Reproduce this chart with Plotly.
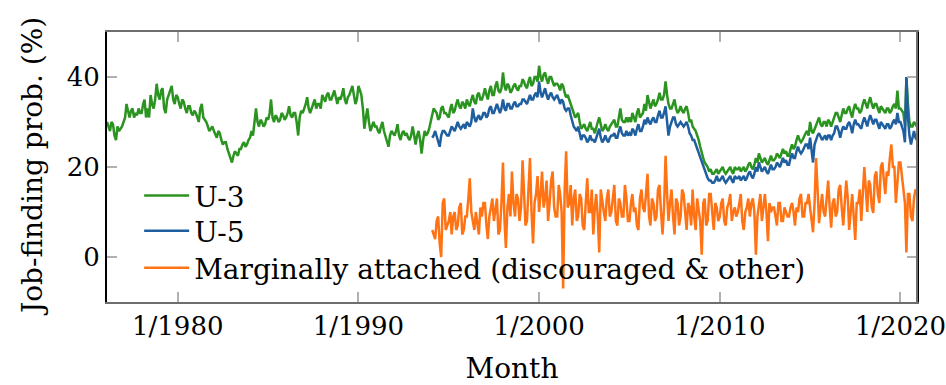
import pandas as pd
import plotly.graph_objects as go

# ---- data: monthly readings ----
u3_values = [
    30, 29, 28, 30, 29.5, 27, 26, 29, 28, 28.5, 29,                  # 1976 (Feb-Dec)
    30, 31, 34, 32, 31, 32.5, 33, 31, 32, 31.5, 33, 32,              # 1977
    32, 34, 35, 31, 33, 31, 36, 34, 33, 35, 38.5, 36,                # 1978
    35, 37, 37.5, 33, 32, 35, 36, 37, 38, 35, 34, 36,                # 1979
    35.5, 34, 33, 35, 34.5, 33, 32, 33.5, 33.5, 32, 31.5, 32.5,      # 1980
    32, 31, 30, 33, 34, 31, 30.5, 30, 29, 28, 28.5, 29,              # 1981
    28, 27, 26.5, 28, 27.5, 26, 25, 25.5, 25.5, 24, 23, 22.5,        # 1982
    21, 22.5, 23.5, 23, 22.5, 24, 24, 25, 25.5, 24.5, 25, 26,        # 1983
    26.5, 28, 27, 30, 33, 30, 29, 30.5, 30, 29, 29.5, 31,            # 1984
    30.5, 32, 35, 31, 30, 31.5, 31, 30, 30.5, 32, 31.5, 30.5,        # 1985
    31, 32, 33.5, 31.5, 31, 32, 32, 30, 27, 31, 32.5, 32,            # 1986
    33, 34, 35.5, 33, 32, 33, 33.5, 35, 33, 34, 34, 33,              # 1987
    36, 35, 34.5, 36, 36.5, 35, 35, 36, 37, 35.5, 34, 35.5,          # 1988
    35, 36, 37.5, 35, 34, 35.5, 36, 37, 38, 36, 34, 35,              # 1989
    38, 37, 36, 33, 28.5, 31, 33, 30, 28, 29, 30, 29,                # 1990
    29, 28, 27.5, 29, 30, 28, 27, 26, 24.5, 27, 28, 27.5,            # 1991
    27, 28, 29.5, 27, 26, 27.5, 28, 27, 27.5, 26.5, 26, 27,          # 1992
    29, 27, 25, 27, 28, 26, 23, 26, 28, 27, 27.5, 28.5,              # 1993
    30, 31, 33, 32.5, 32, 30.5, 31, 33, 33.5, 32, 32, 31.5,          # 1994
    31, 33, 34, 32, 32.5, 34, 35, 33.5, 33, 34.5, 34, 33,            # 1995
    35, 34, 33.5, 35, 36, 34.5, 34, 36, 36.5, 35, 35, 36,            # 1996
    37.5, 36, 35, 37, 38, 36, 36, 38, 39, 37, 36.5, 37.5,            # 1997
    41, 38, 37, 38.5, 38, 36.5, 37, 38, 38.5, 37.5, 37, 38,          # 1998
    38, 39.5, 39, 38, 37.5, 39, 40, 38, 38.5, 40, 40, 39,            # 1999
    42.5, 40, 39, 40.5, 41, 39.5, 38.5, 40, 40, 39, 38, 38.5,        # 2000
    38.5, 38, 37, 38.5, 38, 36.5, 35.5, 36, 35, 34, 33, 32,          # 2001
    31, 31.5, 32, 30, 28.5, 29, 29.5, 28.5, 28, 29, 30, 28.5,        # 2002
    28.5, 27.5, 29, 30, 31, 29, 28, 28.5, 29.5, 28.5, 28, 29,        # 2003
    29.5, 30, 30.5, 29, 29, 31, 33, 30.5, 30, 30, 31, 30,            # 2004
    31, 30, 32, 31, 30, 32, 33, 31, 31.5, 32, 34, 32.5,              # 2005
    36, 34, 33, 34, 35, 33.5, 34, 35, 36.5, 35, 35, 36,              # 2006
    39, 36, 34, 33, 33, 34, 35, 33, 32, 32.5, 33.5, 32.5,            # 2007
    32, 33, 33.5, 32, 30, 30.5, 29, 28.5, 28, 27, 26, 24.5,          # 2008
    23, 22, 21, 20.5, 20, 19, 19.5, 18.5, 18.5, 19, 19.5, 18.5,      # 2009
    19, 19.5, 20, 19, 18.5, 19, 19.5, 20, 19, 18.5, 20, 19.5,        # 2010
    19.5, 20, 19, 19.5, 20, 19, 19.5, 20.5, 21, 20, 19.5, 20.5,      # 2011
    22, 21, 23, 22, 21, 21.5, 22, 21, 20.5, 21.5, 22.5, 21.5,        # 2012
    21.5, 22, 23, 22.5, 22, 23, 24, 23, 23.5, 22.5, 22.5, 24,        # 2013
    25, 24, 24.5, 26, 27, 26, 25.5, 26, 27, 27.5, 28, 27,            # 2014
    30, 28, 27.5, 28.5, 29, 30, 31, 29.5, 29, 30, 30, 29,            # 2015
    30.5, 30, 29, 30, 31, 32, 32, 31, 30, 31.5, 33, 32,              # 2016
    32, 33, 33.5, 32, 31, 33, 34, 33, 33, 32, 32.5, 34,              # 2017
    35, 34, 33, 34.5, 35.5, 34, 33, 34, 34, 33, 32, 33.5,            # 2018
    33, 32.5, 32, 33, 33, 32, 32.5, 33.5, 34, 33, 37, 33,            # 2019
    33, 32.5, 32, 29, 40, 34, 30, 29, 29, 30, 29.5, 29,              # 2020
]

u5_values = [
    26.5, 27, 28, 27, 26, 24.5, 27, 28, 28, 27.5, 27,                # 1994 (Feb-Dec)
    27, 28, 29, 28.5, 28, 29, 30, 29, 28.5, 29, 29.5, 28.5,          # 1995
    30, 29.5, 29, 30, 33, 31, 30, 31, 31.5, 30.5, 31, 32,            # 1996
    32, 31, 31.5, 33, 33.5, 32, 32, 33, 34, 33, 32, 33,              # 1997
    35, 33, 32.5, 34, 34, 33, 33, 34, 34.5, 33.5, 33.5, 34,          # 1998
    34, 35, 35, 34.5, 34, 35, 36, 35, 35, 36, 36.5, 35.5,            # 1999
    39, 36.5, 35.5, 36.5, 37.5, 36, 35, 36, 36.5, 35.5, 35, 35.5,    # 2000
    36, 35, 34, 35, 34.5, 33, 32.5, 33, 33, 31.5, 30, 29,            # 2001
    28.5, 28, 29, 27.5, 26, 27, 27, 26.5, 25.5, 26, 27, 26,          # 2002
    26, 25.5, 26.5, 27.5, 28.5, 26.5, 25.5, 26, 27, 26, 25.5, 26.5,  # 2003
    27, 27, 27.5, 26.5, 26.5, 28, 29, 27.5, 27, 27, 28, 27,          # 2004
    27.5, 27, 28.5, 28, 27, 28.5, 29.5, 28, 28, 29, 30.5, 29.5,      # 2005
    31, 30, 29.5, 30.5, 31, 30, 30, 31.5, 32.5, 31, 31, 32,          # 2006
    33.5, 30, 27, 29, 30, 31, 31, 29.5, 29, 29.5, 30, 29.5,          # 2007
    29, 29.5, 30, 29, 27.5, 27, 26, 26, 25, 24, 23, 22,              # 2008
    21, 20, 19, 18, 17.5, 17, 17, 16.5, 16.5, 17, 18, 17,            # 2009
    17, 17.5, 18, 17, 16.5, 17, 17.5, 18, 17, 16.5, 18, 17.5,        # 2010
    17.5, 18, 17, 17.5, 18, 17, 17.5, 18.5, 19, 18, 17.5, 18.5,      # 2011
    20, 19, 21, 20, 19, 19.5, 20, 19, 18.5, 19.5, 20.5, 19.5,        # 2012
    19.5, 20, 21, 20.5, 20, 21, 22, 21, 21.5, 20.5, 20.5, 22,        # 2013
    23, 22, 22, 23.5, 24.5, 23.5, 23, 23.5, 24.5, 25, 25, 24,        # 2014
    26.5, 24, 21, 25, 26, 27, 27.5, 26.5, 26, 26.5, 27, 26,          # 2015
    27, 27, 26, 27, 27.5, 29, 29, 28, 26.5, 28, 29, 28.5,            # 2016
    28.5, 29.5, 30, 29, 27.5, 29.5, 30.5, 29.5, 29.5, 29, 28.5, 30,  # 2017
    31, 30, 29, 30.5, 31.5, 30.5, 29.5, 30.5, 30.5, 29.5, 28.5, 30,  # 2018
    29.5, 29, 28.5, 29.5, 29.5, 28.5, 29, 30, 30.5, 29.5, 32, 30,    # 2019
    30, 29, 28, 25.5, 40, 31, 27, 25, 27, 28, 26.5, 26,              # 2020
]

marginal_values = [
    6, 5, 4, 8, 9, 3, 0, 12, 13, 6, 7,                               # 1994 (Feb-Dec)
    8, 10, 5, 9, 10, 6, 7, 11, 12, 5, 6, 9,                          # 1995
    9, 13, 17.5, 10, 8, 6, 10, 7, 5, 11, 9, 12,                      # 1996
    12, 7, 4, 9, 11, 13, 8, 10, 13, 5, 6, 12,                        # 1997
    21, 8, 2, 11, 14, 9, 19, 12, 9, 14, 13, 8,                       # 1998
    11, 21.5, 16, 7, 8, 15, 22, 10, 3, 12, 14, 18,                   # 1999
    10, 14, 19, 11, 13, 17, 8, 12, 17, 19, 11, 9,                    # 2000
    9, 16, 14, 10, -7, 15, 23.5, 11, 12, 16, 7, 13,                  # 2001
    15, 8, 9, 14, 13, 7, 6, 12, 17.5, 10, 10, 15,                    # 2002
    5, 11, 14, 9, 1, 15, 12, 10, 8, 13, 15, 9,                       # 2003
    10, 14, 16, 8, 7, 13, 12, 9, 9, 16, 13, 8,                       # 2004
    8, 12, 14, 10, 11, 7, 6, 13, 15, 11, 10, 14,                     # 2005
    18.5, 9, 7, 13, 12, 8, 9, 15, 16, 10, 5, 11,                     # 2006
    22.5, 14, 8, 12, 15, 9, 5, 13, 12, 7, 9, 15,                     # 2007
    14, 10, 6, 12, 11, 7, 15, 9, 6, 13, 10, 8,                       # 2008
    0.5, 12, 13, 7, 8, 14, 14, 9, 6, 12, 11, 8,                      # 2009
    9, 12, 13, 8, 7, 11, 12, 14, 8, 10, 11, 9,                       # 2010
    10, 12, 14, 8, 6, 10, 11, 13, 9, 12, 13, 10,                     # 2011
    0.5, 9, 12, 14, 8, 11, 14, 10, 3.5, 12, 10, 11,                  # 2012
    11, 9, 7, 12, 12, 8, 8, 11, 10, 9, 9, 11,                        # 2013
    12, 10, 7, 11, 10, 13, 14, 9, 9, 12, 12, 14,                     # 2014
    11, 8, 5.5, 12, 22, 15, 7.5, 11, 14, 10, 9, 13,                  # 2015
    17, 11, 6.5, 12, 13, 9, 10, 15, 16, 11, 7, 12,                   # 2016
    17, 13, 6, 10, 14, 9, 3.8, 12, 12, 15, 8, 14,                    # 2017
    20, 15, 10, 17, 16, 11, 9.8, 18, 19, 14, 12, 20,                 # 2018
    21, 17, 14, 19, 18, 22, 25, 20, 20, 12, 16, 21,                  # 2019
    21, 18, 16, 12, 1, 14, 14, 9, 8, 13, 15, 14,                     # 2020
]

series_names = ["U-3", "U-5", "Marginally attached (discouraged & other)"]
tick_dates = ["1980-01-01", "1990-01-01", "2000-01-01", "2010-01-01", "2020-01-01"]
tick_labels = ["1/1980", "1/1990", "1/2000", "1/2010", "1/2020"]
y_ticks = [0, 20, 40]

u3_dates = pd.date_range("1976-02-01", periods=len(u3_values), freq="MS")
u5_dates = pd.date_range("1994-02-01", periods=len(u5_values), freq="MS")
marg_dates = pd.date_range("1994-02-01", periods=len(marginal_values), freq="MS")

FONT = "DejaVu Serif"
GREEN = "#2b9421"
BLUE = "#1f5f9f"
ORANGE = "#ff7315"
LW = 2.5

fig = go.Figure()
fig.add_trace(go.Scatter(x=u3_dates, y=u3_values, mode="lines", name=series_names[0],
                         line=dict(color=GREEN, width=LW), legend="legend"))
fig.add_trace(go.Scatter(x=u5_dates, y=u5_values, mode="lines", name=series_names[1],
                         line=dict(color=BLUE, width=LW), legend="legend2"))
fig.add_trace(go.Scatter(x=marg_dates, y=marginal_values, mode="lines", name=series_names[2],
                         line=dict(color=ORANGE, width=LW), legend="legend3"))

legend_common = dict(x=0.0397, xanchor="left", yanchor="middle",
                     bgcolor="rgba(0,0,0,0)", borderwidth=0,
                     font=dict(family=FONT, size=28, color="black"), itemwidth=45)

fig.update_layout(
    width=946, height=385,
    margin=dict(l=107, r=29, t=32, b=83),
    paper_bgcolor="white", plot_bgcolor="white",
    font=dict(family=FONT, size=26, color="black"),
    showlegend=True,
    legend=dict(y=0.393, **legend_common),
    legend2=dict(y=0.263, **legend_common),
    legend3=dict(y=0.126, **legend_common),
    xaxis=dict(
        type="date", automargin=False,
        range=["1976-02-01", "2020-12-01"],
        tickmode="array", tickvals=tick_dates, ticktext=tick_labels,
        ticks="inside", ticklen=10, tickwidth=1.5, tickcolor="#b0b0b0",
        showline=True, linecolor="#6e6e6e", linewidth=2, mirror="ticks",
        showgrid=False, zeroline=False, ticklabeloverflow="allow",
        tickfont=dict(family=FONT, size=26, color="black"),
        title=dict(text="Month", font=dict(family=FONT, size=28, color="black"), standoff=28),
    ),
    yaxis=dict(
        range=[-10, 50], automargin=False,
        tickmode="array", tickvals=y_ticks,
        ticks="inside", ticklen=10, tickwidth=1.5, tickcolor="#b0b0b0",
        showline=True, linecolor="black", linewidth=2, mirror="ticks",
        showgrid=False, zeroline=False,
        tickfont=dict(family=FONT, size=26, color="black"),
    ),
    annotations=[dict(text="Job-finding prob. (%)", xref="paper", yref="paper",
                      x=-0.0925, y=0.5, xanchor="center", yanchor="middle",
                      textangle=-90, showarrow=False,
                      font=dict(family=FONT, size=28, color="black"))],
    shapes=[dict(type="line", xref="paper", yref="paper", x0=1, x1=1, y0=0, y1=1,
                 line=dict(color="#6e6e6e", width=2), layer="above")],
)

fig.write_html("out.html")
